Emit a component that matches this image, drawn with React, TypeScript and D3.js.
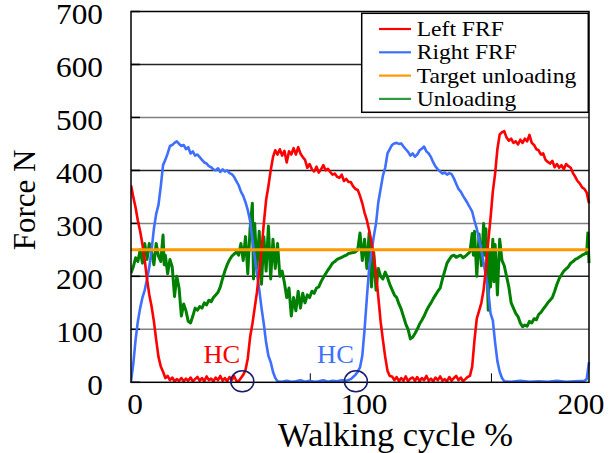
import React from 'react';
import * as d3 from 'd3';

// walking cycle %, force N
const leftFRF: [number, number][] = [
  [0, 372], [1, 350], [2, 330], [3, 305], [4, 285], [5, 260], [6, 230], [7, 195], [8, 165], [9, 143],
  [10, 115], [11, 80], [12, 48], [13, 30], [14, 20], [15, 8], [16, 12], [17, 4], [18, 9], [19, 2],
  [20, 6], [21, 3], [22, 8], [23, 2], [24, 7], [25, 3], [26, 9], [27, 2], [28, 6], [29, 10],
  [30, 3], [31, 8], [32, 2], [33, 11], [34, 4], [35, 7], [36, 2], [37, 9], [38, 4], [39, 12],
  [40, 3], [41, 8], [42, 2], [43, 10], [44, 4], [45, 12], [46, 3], [47, 2], [48, 8], [49, 14],
  [50, 23], [51, 45], [52, 85], [53, 110], [54, 140], [55, 170], [56, 210], [57, 250], [58, 300], [59, 344],
  [60, 370], [61, 400], [62, 425], [63, 438], [64, 430], [65, 440], [66, 428], [67, 437], [68, 415], [69, 436],
  [70, 430], [71, 442], [72, 430], [73, 444], [74, 432], [75, 425], [76, 420], [77, 405], [78, 412], [79, 402],
  [80, 398], [81, 407], [82, 396], [83, 402], [84, 410], [85, 400], [86, 403], [87, 397], [88, 392], [89, 394],
  [90, 388], [91, 386], [92, 392], [93, 380], [94, 384], [95, 378], [96, 378], [97, 370], [98, 365], [99, 363],
  [100, 352], [101, 338], [102, 320], [103, 306], [104, 287], [105, 265], [106, 240], [107, 205], [108, 161], [109, 115],
  [110, 80], [111, 48], [112, 22], [113, 12], [114, 11], [115, 4], [116, 10], [117, 2], [118, 8], [119, 3],
  [120, 11], [121, 2], [122, 7], [123, 9], [124, 3], [125, 10], [126, 2], [127, 8], [128, 4], [129, 12],
  [130, 3], [131, 7], [132, 2], [133, 9], [134, 4], [135, 11], [136, 3], [137, 6], [138, 2], [139, 10],
  [140, 3], [141, 8], [142, 12], [143, 4], [144, 9], [145, 2], [146, 6], [147, 10], [148, 12], [149, 30],
  [150, 80], [151, 120], [152, 135], [153, 150], [154, 175], [155, 215], [156, 265], [157, 310], [158, 360], [159, 394],
  [160, 440], [161, 468], [162, 472], [163, 474], [164, 462], [165, 456], [166, 460], [167, 452], [168, 455], [169, 449],
  [170, 458], [171, 452], [172, 460], [173, 455], [174, 467], [175, 452], [176, 448], [177, 440], [178, 438], [179, 430],
  [180, 432], [181, 420], [182, 416], [183, 413], [184, 418], [185, 406], [186, 412], [187, 405], [188, 410], [189, 402],
  [190, 412], [191, 408], [192, 405], [193, 395], [194, 388], [195, 380], [196, 375], [197, 368], [198, 365], [199, 358],
  [200, 338],
];

const rightFRF: [number, number][] = [
  [0, 2], [1, 35], [2, 80], [3, 115], [4, 140], [5, 160], [6, 174], [7, 195], [8, 218], [9, 250],
  [10, 290], [11, 318], [12, 335], [13, 370], [14, 410], [15, 420], [16, 432], [17, 446], [18, 448], [19, 452],
  [20, 455], [21, 450], [22, 446], [23, 448], [24, 440], [25, 444], [26, 432], [27, 436], [28, 428], [29, 430],
  [30, 425], [31, 420], [32, 415], [33, 413], [34, 408], [35, 406], [36, 402], [37, 400], [38, 404], [39, 397],
  [40, 402], [41, 398], [42, 400], [43, 395], [44, 393], [45, 388], [46, 380], [47, 372], [48, 360], [49, 352],
  [50, 340], [51, 325], [52, 305], [53, 270], [54, 237], [55, 205], [56, 175], [57, 140], [58, 110], [59, 75],
  [60, 50], [61, 38], [62, 20], [63, 8], [64, 2], [66, 1], [68, 3], [70, 1], [72, 2], [74, 4],
  [76, 1], [78, 3], [80, 1], [82, 2], [84, 4], [86, 1], [88, 3], [90, 2], [92, 4], [94, 3],
  [96, 6], [97, 10], [98, 14], [99, 20], [100, 28], [101, 50], [102, 100], [103, 160], [104, 215], [105, 245],
  [106, 275], [107, 300], [108, 340], [109, 365], [110, 390], [111, 405], [112, 432], [113, 440], [114, 448], [115, 451],
  [116, 452], [117, 450], [118, 451], [119, 445], [120, 440], [121, 435], [122, 428], [123, 432], [124, 426], [125, 430],
  [126, 438], [127, 441], [128, 445], [129, 436], [130, 432], [131, 425], [132, 415], [133, 407], [134, 402], [135, 398],
  [136, 394], [137, 396], [138, 392], [139, 395], [140, 393], [141, 385], [142, 375], [143, 365], [144, 360], [145, 352],
  [146, 345], [147, 338], [148, 330], [149, 322], [150, 305], [151, 290], [152, 270], [153, 250], [154, 225], [155, 200],
  [156, 174], [157, 130], [158, 117], [159, 75], [160, 40], [161, 20], [162, 8], [163, 2], [166, 1], [170, 3],
  [174, 1], [178, 2], [182, 1], [186, 3], [190, 1], [194, 2], [198, 3], [199, 6], [200, 38],
];

const unloading: [number, number][] = [
  [0, 206], [1, 218], [2, 235], [3, 228], [4, 250], [5, 225], [6, 262], [7, 232], [8, 262], [9, 245],
  [10, 222], [11, 262], [12, 238], [13, 228], [14, 278], [14.5, 222], [15, 240], [16, 205], [17, 232], [18, 218],
  [19, 162], [20, 200], [21, 178], [22, 125], [23, 148], [24, 135], [25, 115], [26, 112], [27, 125], [28, 140],
  [29, 136], [30, 143], [31, 140], [32, 150], [33, 146], [34, 155], [35, 152], [36, 160], [37, 165], [38, 170],
  [39, 180], [40, 196], [41, 210], [42, 222], [43, 231], [44, 238], [45, 242], [46, 246], [47, 240], [48, 262],
  [49, 230], [50, 275], [51, 205], [52, 290], [53, 338], [53.5, 195], [54, 300], [55, 215], [56, 285], [57, 185],
  [58, 275], [59, 210], [60, 295], [61, 195], [62, 270], [63, 215], [64, 262], [65, 200], [66, 210], [67, 188],
  [68, 160], [69, 178], [70, 125], [71, 160], [72, 135], [73, 172], [74, 140], [75, 168], [76, 150], [77, 165],
  [78, 160], [79, 172], [80, 168], [81, 178], [82, 180], [83, 190], [84, 198], [85, 205], [86, 212], [87, 218],
  [88, 225], [89, 228], [90, 232], [91, 234], [92, 236], [93, 238], [94, 240], [95, 243], [96, 244], [97, 245],
  [98, 246], [99, 250], [100, 282], [101, 230], [102, 270], [103, 215], [104, 282], [105, 180], [106, 245], [107, 174],
  [108, 215], [109, 200], [110, 195], [111, 208], [112, 198], [113, 185], [114, 175], [115, 165], [116, 160], [117, 148],
  [118, 138], [119, 124], [120, 110], [121, 100], [122, 82], [123, 85], [124, 92], [125, 100], [126, 110], [127, 117],
  [128, 125], [129, 135], [130, 143], [131, 150], [132, 158], [133, 165], [134, 172], [135, 178], [136, 195], [137, 210],
  [138, 225], [139, 232], [140, 238], [141, 240], [142, 236], [143, 238], [144, 240], [145, 235], [146, 238], [147, 242],
  [148, 246], [149, 281], [149.5, 240], [150, 285], [151, 200], [152, 280], [153, 220], [154, 300], [154.5, 240], [155, 290],
  [156, 136], [156.5, 250], [157, 180], [158, 270], [158.5, 190], [159, 260], [160, 165], [161, 270], [162, 230], [163, 220],
  [164, 200], [165, 180], [166, 150], [167, 140], [168, 130], [169, 124], [170, 112], [171, 105], [172, 108], [173, 106],
  [174, 115], [175, 112], [176, 120], [177, 118], [178, 128], [179, 132], [180, 138], [181, 144], [182, 150], [183, 155],
  [184, 160], [185, 172], [186, 185], [187, 196], [188, 203], [189, 210], [190, 214], [191, 218], [192, 225], [193, 228],
  [194, 232], [195, 234], [196, 237], [197, 240], [198, 242], [199, 245], [199.5, 282], [200, 225],
];

const targetUnloading = 250;

const yTicks = [0, 100, 200, 300, 400, 500, 600, 700];
const xTicks = [0, 100, 200];
const xMinorTicks = [78.3, 157.4];
// heel contact markers: [x %, label colour]
const hcMarks: [number, string][] = [[48.6, '#ff0000'], [98.2, '#3f6fff']];

const legendItems = [
  { label: 'Left FRF', color: '#ff0000' },
  { label: 'Right FRF', color: '#3f6fff' },
  { label: 'Target unloading', color: '#ff9900' },
  { label: 'Unloading', color: '#2e9a45' },
];

const font = '"Liberation Serif", "Times New Roman", serif';

export default function App() {
  const W = 614, H = 453;
  const left = 131, right = 589, top = 11.5, bottom = 382.3;

  const x = d3.scaleLinear().domain([0, 200]).range([left, right]);
  const y = d3.scaleLinear().domain([0, 700]).range([bottom, top]);

  const line = d3.line<[number, number]>()
    .x((d) => x(d[0]))
    .y((d) => y(d[1]));

  const stretch = (tx: number, ty: number, sx: number) => `translate(${tx},${ty}) scale(${sx},1)`;

  return (
    <svg width={W} height={H} style={{ position: 'absolute', left: 0, top: 0, background: '#fff' }}>
      <defs>
        <clipPath id="plot">
          <rect x={left} y={top - 2} width={right - left + 2} height={bottom - top + 4} />
        </clipPath>
      </defs>

      {/* gridlines */}
      {yTicks.filter((t) => t > 0 && t < 700).map((t) => (
        <line key={t} x1={left} x2={right} y1={y(t)} y2={y(t)}
          stroke={t % 200 === 0 ? '#222' : '#808080'} strokeWidth={1.5} />
      ))}
      {yTicks.map((t) => (
        <line key={'yt' + t} x1={left} x2={left + 9} y1={y(t)} y2={y(t)} stroke="#000" strokeWidth={1.5} />
      ))}
      {xMinorTicks.map((t) => (
        <line key={'xm' + t} x1={x(t)} x2={x(t)} y1={bottom} y2={bottom - 9} stroke="#000" strokeWidth={1} />
      ))}

      {/* series */}
      <g clipPath="url(#plot)" fill="none" strokeLinejoin="round">
        <path d={line(unloading) || ''} stroke="#008000" strokeWidth={3} />
        <path d={line(rightFRF) || ''} stroke="#3f6fff" strokeWidth={2.6} />
        <path d={line(leftFRF) || ''} stroke="#ff0000" strokeWidth={2.6} />
        <line x1={x(0)} x2={x(200)} y1={y(targetUnloading)} y2={y(targetUnloading)} stroke="#ff9900" strokeWidth={3} />
      </g>

      {/* frame */}
      <rect x={left} y={top} width={right - left} height={bottom - top} fill="none" stroke="#000" strokeWidth={1.5} />

      {/* HC markers */}
      {hcMarks.map(([xv, c]) => (
        <g key={xv}>
          <ellipse cx={x(xv)} cy={y(0) - 1} rx={11.5} ry={10.5} fill="none" stroke="#1a1a6e" strokeWidth={1.5} />
          <text transform={stretch(x(xv) - 2, y(0) - 19, 1.06)} textAnchor="end" fontFamily={font}
            fontSize={25} fill={c}>HC</text>
        </g>
      ))}

      {/* y tick labels */}
      {yTicks.map((t) => (
        <text key={'yl' + t} transform={stretch(103, y(t) + 12.5, 1.1)} textAnchor="end"
          fontFamily={font} fontSize={28.5} fill="#000">{t}</text>
      ))}
      {/* x tick labels */}
      {xTicks.map((t) => (
        <text key={'xl' + t} transform={stretch(Math.min(x(t) + 4, W - 33), 413.5, 1.1)} textAnchor="middle"
          fontFamily={font} fontSize={28.5} fill="#000">{t}</text>
      ))}

      <text transform="translate(35,200) rotate(-90)" textAnchor="middle" fontFamily={font} fontSize={31} fill="#000">Force N</text>
      <text x={395.5} y={446} textAnchor="middle" fontFamily={font} fontSize={34.5} fill="#000">Walking cycle %</text>

      {/* legend */}
      <g>
        <rect x={361.7} y={13.3} width={226.6} height={99} fill="#fff" stroke="#000" strokeWidth={1.5} />
        {legendItems.map((it, i) => {
          const cy = 29 + i * 23.3;
          return (
            <g key={it.label}>
              <line x1={379} x2={411} y1={cy} y2={cy} stroke={it.color} strokeWidth={2.2} />
              <text transform={stretch(416.7, cy + 7, 1.15)} fontFamily={font} fontSize={20.5} fill="#000">{it.label}</text>
            </g>
          );
        })}
      </g>
    </svg>
  );
}
